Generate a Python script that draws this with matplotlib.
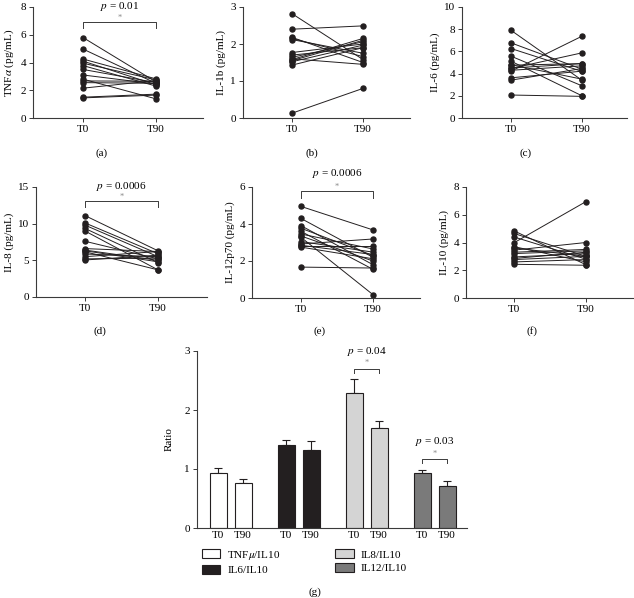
import matplotlib
matplotlib.use('Agg')
import matplotlib.pyplot as plt
from matplotlib.patches import Patch

plt.rcParams['font.family'] = ['Liberation Serif', 'DejaVu Serif']
plt.rcParams['mathtext.fontset'] = 'stix'
plt.rcParams['font.size'] = 8

# ---------------- data ----------------
timepoints = ['T0', 'T90']

tnfa_t0 = [5.8, 4.97, 4.25, 4.1, 3.95, 3.78, 3.5, 3.1, 2.8, 2.67, 2.55, 2.15, 1.5, 1.45]
tnfa_t90 = [2.6, 2.5, 2.82, 2.4, 2.75, 2.3, 2.55, 2.45, 1.38, 2.65, 2.5, 2.7, 1.72, 1.65]

il1b_t0 = [2.82, 2.4, 2.18, 2.15, 2.12, 1.77, 1.7, 1.64, 1.58, 1.52, 1.43, 1.6, 1.55, 0.13]
il1b_t90 = [1.58, 2.49, 1.5, 1.66, 1.75, 2.0, 1.9, 2.06, 2.15, 1.97, 1.9, 1.45, 2.1, 0.8]

il6_t0 = [7.9, 6.77, 6.26, 5.57, 5.12, 4.76, 4.46, 4.22, 4.3, 3.62, 3.41, 2.07, 4.8, 4.5]
il6_t90 = [3.4, 4.4, 4.2, 2.9, 2.0, 4.9, 5.87, 7.37, 4.7, 4.22, 4.46, 1.95, 3.5, 4.9]

il8_t0 = [11.1, 10.1, 9.8, 9.35, 9.0, 7.6, 6.6, 6.4, 6.17, 5.86, 5.5, 5.05, 6.3, 5.2]
il8_t90 = [6.3, 5.9, 5.5, 4.7, 3.7, 5.2, 6.2, 5.0, 3.7, 5.5, 6.2, 5.7, 4.8, 5.3]

il12_t0 = [4.95, 4.3, 3.91, 3.77, 3.6, 3.46, 3.28, 3.05, 2.92, 2.8, 2.75, 2.85, 3.35, 1.67]
il12_t90 = [3.68, 2.2, 1.8, 2.3, 1.55, 2.65, 0.18, 2.48, 3.19, 2.8, 2.12, 2.35, 2.0, 1.62]

il10_t0 = [4.84, 4.65, 4.4, 3.98, 3.61, 3.45, 3.2, 2.96, 2.77, 2.6, 2.43, 3.7, 3.3, 2.85]
il10_t90 = [2.4, 3.0, 2.8, 6.95, 3.0, 4.0, 3.4, 3.2, 3.0, 2.77, 2.36, 2.6, 3.5, 3.3]

ratio_names = ['TNF$\\mathit{\\mu}$/IL10', 'IL6/IL10', 'IL8/IL10', 'IL12/IL10']
ratio_t0 = [0.93, 1.40, 2.28, 0.94]
ratio_t90 = [0.77, 1.32, 1.69, 0.72]
ratio_err_t0 = [0.08, 0.10, 0.25, 0.05]
ratio_err_t90 = [0.06, 0.15, 0.12, 0.08]
ratio_colors = ['#ffffff', '#231f20', '#d4d4d4', '#7a7a7a']

# ---------------- layout ----------------
W, H = 634, 598
fig = plt.figure(figsize=(W / 100, H / 100), dpi=100)
ink = '#231f20'


def px_axes(l, t, r, b):
    return fig.add_axes([l / W, 1 - b / H, (r - l) / W, (b - t) / H])


def style(ax):
    for s in ['top', 'right']:
        ax.spines[s].set_visible(False)
    for s in ['left', 'bottom']:
        ax.spines[s].set_color('#3a3a3a')
        ax.spines[s].set_linewidth(0.8)
    ax.tick_params(length=3, width=0.7, color='#3a3a3a', labelsize=8, pad=2)


def bracket(ax, x0, x1, ylo, yhi, ystar, ptext=None, yp=None):
    ax.plot([x0, x0, x1, x1], [ylo, yhi, yhi, ylo], color='#3a3a3a', lw=0.7, clip_on=False)
    ax.text((x0 + x1) / 2, ystar, '*', ha='center', va='center', color='#888888', fontsize=6)
    if ptext:
        ax.text((x0 + x1) / 2, yp, ptext, ha='center', va='center', fontsize=8)


panels = [
    # (l, t, r, b, xT0, xT90, t0, t90, ylabel, ymax, ystep, sig, label, labx, laby)
    (33, 7, 203, 118, 83, 156, tnfa_t0, tnfa_t90, 'TNF$\\mathit{\\alpha}$ (pg/mL)', 8, 2,
     (6.47, 6.9, 7.2, '$p$ = 0.01', 8.02), '(a)', 102, 153),
    (243, 7, 410, 118, 292, 363, il1b_t0, il1b_t90, 'IL-1b (pg/mL)', 3, 1, None, '(b)', 312, 153),
    (462, 7, 627, 118, 511, 582, il6_t0, il6_t90, 'IL-6 (pg/mL)', 10, 2, None, '(c)', 526, 153),
    (36, 187, 207, 297, 85, 158, il8_t0, il8_t90, 'IL-8 (pg/mL)', 15, 5,
     (12.3, 13.1, 13.7, '$p$ = 0.0006', 15.1), '(d)', 100, 331),
    (252, 187, 420, 298, 301, 373, il12_t0, il12_t90, 'IL-12p70 (pg/mL)', 6, 2,
     (5.42, 5.78, 6.03, '$p$ = 0.0006', 6.75), '(e)', 320, 331),
    (466, 187, 634, 298, 514, 586, il10_t0, il10_t90, 'IL-10 (pg/mL)', 8, 2, None, '(f)', 532, 331),
]

for (l, t, r, b, xa, xb, t0, t90, ylab, ymax, ystep, sig, lab, lx, ly) in panels:
    ax = px_axes(l, t, r, b)
    style(ax)
    u = xb - xa
    ax.set_xlim((l - xa) / u, (r - xa) / u)
    ax.set_ylim(0, ymax)
    ax.set_yticks(range(0, ymax + 1, ystep))
    ax.set_xticks([0, 1])
    ax.set_xticklabels(timepoints)
    for a, c in zip(t0, t90):
        ax.plot([0, 1], [a, c], color=ink, lw=0.7, marker='o', markersize=3.6,
                markerfacecolor=ink, markeredgecolor=ink, clip_on=False)
    ax.set_ylabel(ylab, fontsize=8, labelpad=3)
    if sig:
        bracket(ax, 0, 1, sig[0], sig[1], sig[2], sig[3], sig[4])
    fig.text(lx / W, 1 - ly / H, lab, ha='center', va='center', fontsize=8)

# ---------------- panel (g) ----------------
axg = px_axes(197, 351, 467, 528)
style(axg)
gap = 2.72
bw = 0.68
x0s = [g * gap for g in range(4)]
x1s = [g * gap + 1 for g in range(4)]
for g in range(4):
    axg.bar([x0s[g], x1s[g]], [ratio_t0[g], ratio_t90[g]], width=bw,
            color=ratio_colors[g], edgecolor=ink, linewidth=0.8, zorder=2)
    axg.errorbar([x0s[g], x1s[g]], [ratio_t0[g], ratio_t90[g]],
                 yerr=[[0, 0], [ratio_err_t0[g], ratio_err_t90[g]]],
                 fmt='none', ecolor=ink, elinewidth=0.8, capsize=3, capthick=0.8, zorder=1)
axg.set_xlim(-0.84, 9.96)
axg.set_ylim(0, 3)
axg.set_yticks([0, 1, 2, 3])
axg.set_xticks(x0s + x1s)
axg.set_xticklabels(['T0'] * 4 + ['T90'] * 4)
axg.tick_params(axis='x', length=0)
axg.set_ylabel('Ratio', fontsize=8, labelpad=8)

bracket(axg, x0s[2], x1s[2], 2.63, 2.69, 2.79, '$p$ = 0.04', 3.0)
bracket(axg, x0s[3], x1s[3], 1.10, 1.17, 1.25, '$p$ = 0.03', 1.46)

handles = [Patch(facecolor=c, edgecolor=ink, linewidth=0.8) for c in ratio_colors]
axg.legend(handles, ratio_names, ncol=2, loc='upper left', bbox_to_anchor=(-0.02, -0.06),
           frameon=False, fontsize=8, handlelength=1.7, handleheight=0.9,
           columnspacing=4.9, labelspacing=0.3, handletextpad=0.6)

fig.text(315 / W, 1 - 592 / H, '(g)', ha='center', va='center', fontsize=8)

fig.savefig('out.png', dpi=100, facecolor='white')
